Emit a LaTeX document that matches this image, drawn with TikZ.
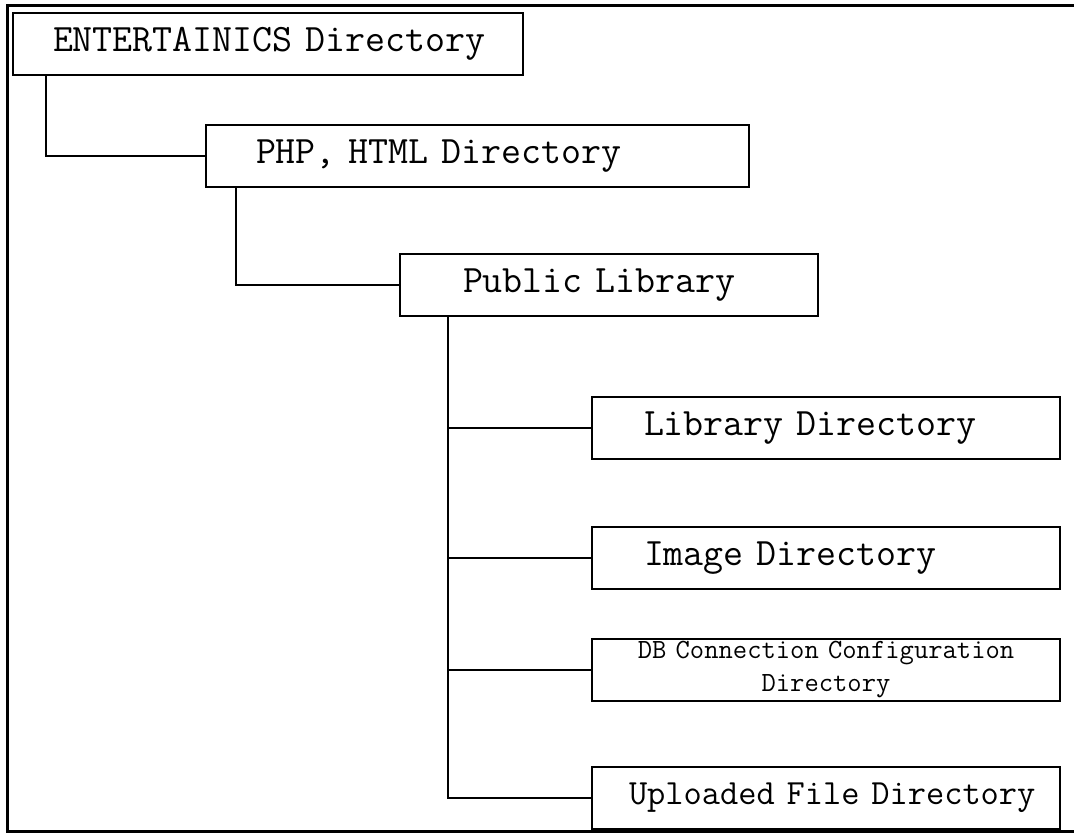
\documentclass[tikz,border=0pt]{standalone}

\begin{document}
\begin{tikzpicture}[x=0.5pt,y=-0.5pt]
    \tikzset{dirbox/.style 2 args = {draw, line width=1pt, anchor=north west,
        minimum height=31pt, inner xsep=0pt, text width=#1, align=left,
        font=\ttfamily\fontsize{19.4}{23}\selectfont,
        execute at begin node={\hspace*{#2}}}}
    \tikzset{dbbox/.style = {draw, line width=1pt, anchor=north west,
        minimum height=31pt, inner xsep=0pt, inner ysep=0.5pt, text width=234pt,
        align=center, font=\ttfamily\fontsize{13.9}{16.5}\selectfont}}
    \tikzset{link/.style = {-, line width=1pt}}
    \useasboundingbox (0,0) rectangle (1074,833);
    % frame
    \draw[line width=1.5pt] (1074,6) -- (7,6) -- (7,831) -- (1074,831);
    % directories
    \node[dirbox={255pt}{20pt}] (ent) at (12,12) {ENTERTAINICS Directory};
    \node[dirbox={271.5pt}{25pt}] (php) at (205,124) {PHP, HTML Directory};
    \node[dirbox={209pt}{31.5pt}] (pub) at (399,253) {Public Library};
    \node[dirbox={234pt}{26pt}] (lib) at (591,396) {Library Directory};
    \node[dirbox={234pt}{26pt}] (img) at (591,526) {Image Directory};
    \node[dbbox] (dbc) at (591,638) {DB Connection Configuration\\Directory};
    \node[dirbox={234pt}{18.5pt}, font=\ttfamily\fontsize{17.7}{21}\selectfont] (upl) at (591,766) {Uploaded File Directory};

    % links
    \draw[link] ([xshift=17pt]ent.south west) |- (php.west);
    \draw[link] ([xshift=15.5pt]php.south west) |- (pub.west);
    \coordinate (trunk) at ([xshift=24.5pt]pub.south west);
    \foreach \c in {lib,img,dbc,upl}
        \draw[link] (trunk) |- (\c.west);
\end{tikzpicture}
\end{document}
